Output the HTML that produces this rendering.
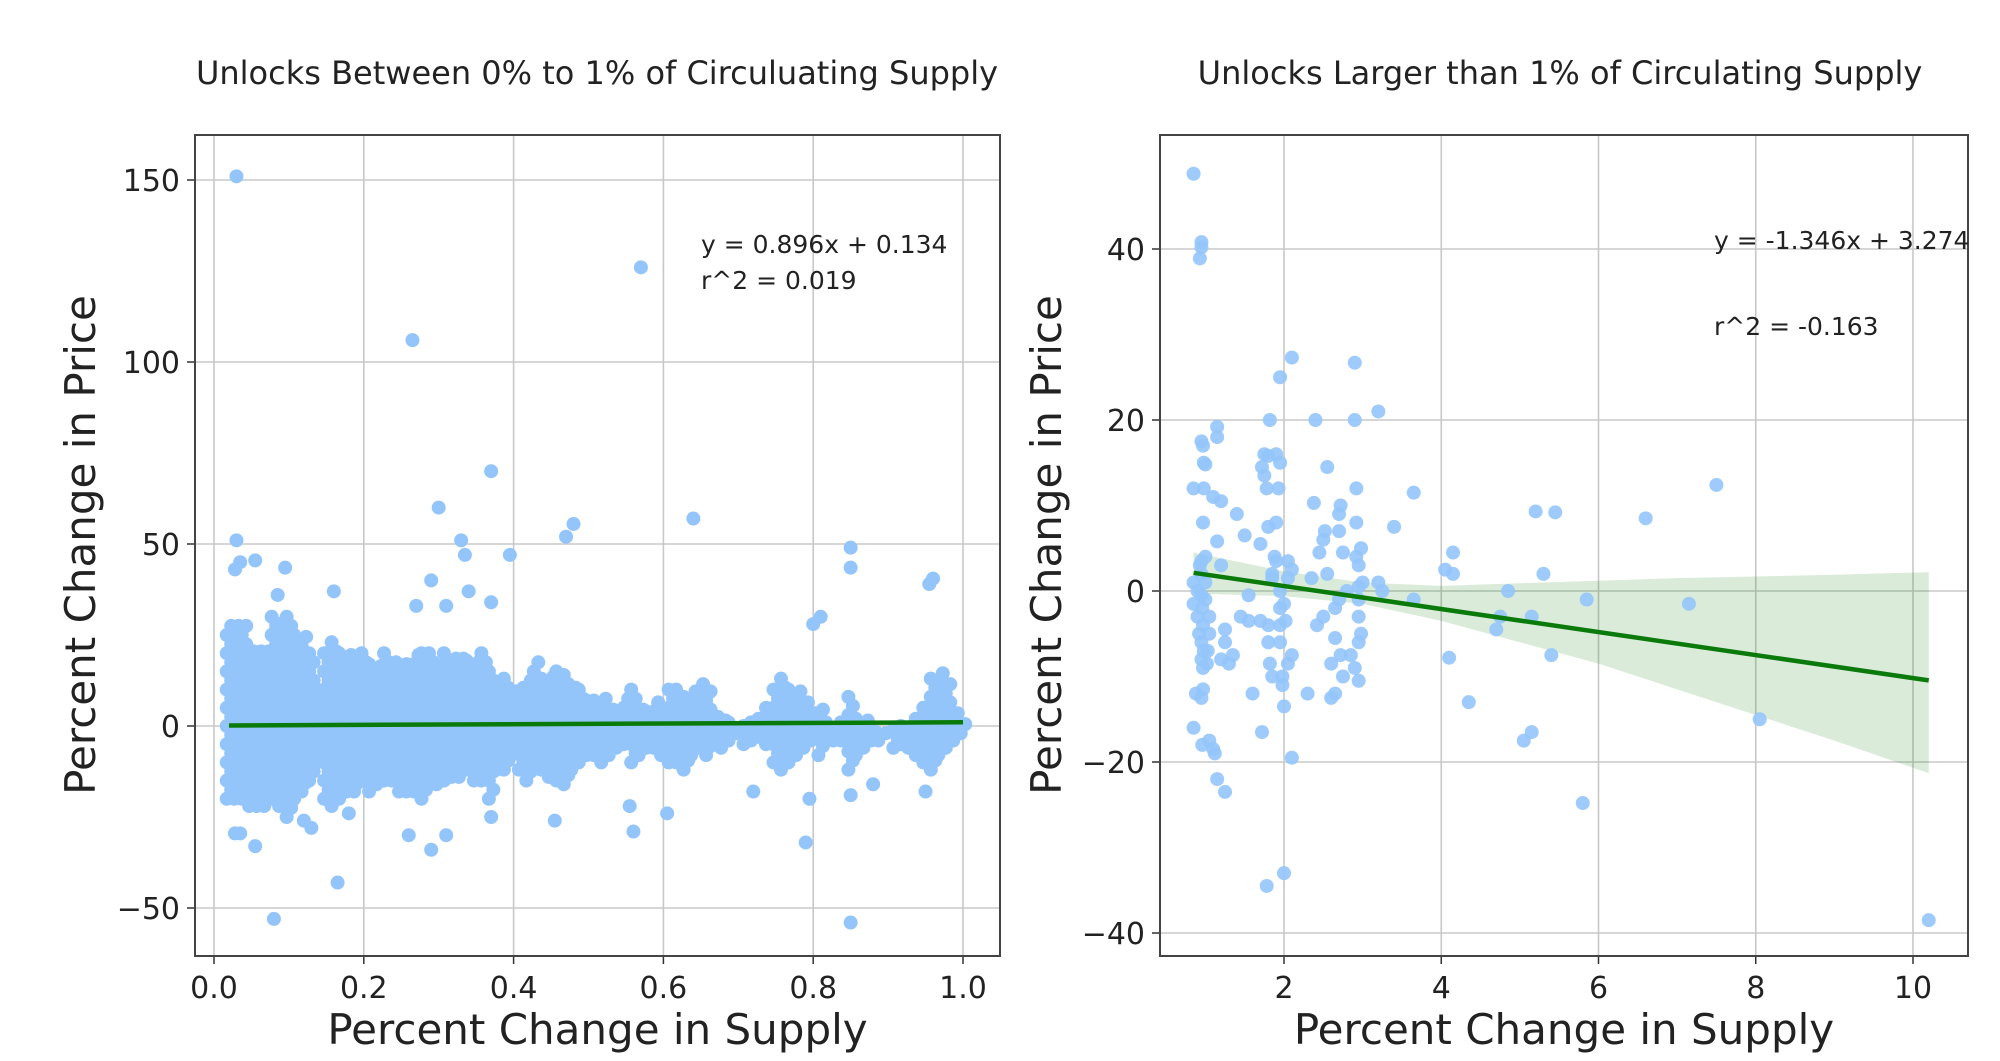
<!DOCTYPE html>
<html><head><meta charset="utf-8"><style>
html,body{margin:0;padding:0;background:#fff;}
svg{display:block;font-family:"DejaVu Sans","Liberation Sans",sans-serif;}
</style></head><body>
<svg id="chart" width="2000" height="1061" viewBox="0 0 2000 1061"></svg>
<script>
// ---------- LEFT PANEL DATA ----------
const leftXTicks = [0.0,0.2,0.4,0.6,0.8,1.0];
const leftXTickLabels = ["0.0","0.2","0.4","0.6","0.8","1.0"];
const leftYTicks = [-50,0,50,100,150];
const leftYTickLabels = ["\u221250","0","50","100","150"];
const leftBinStart = 0.02, leftBinStep = 0.01;
const leftCloudHi = [28,28,28,22,22,22,30,28,30,27,25,22,10,22,24,22,20,18,20,
 18,18,20,18,16, 18,20,20,22,18, 22,20,20,18,18, 20,15,12,15,10, 12,14,18,15,14,
 16,15,12,10,8, 8,8,6,6,8, 10,6,4,8,6, 12,10,8,10,12, 10,4,2,2,0, 2,3,4,6,10,
 15,12,10,8,5, 6,2,0,2,10, 4,2,0,-2,0, 0,0,0,2,5, 15,15,12,5,2];
const leftCloudLo = [-20,-20,-20,-22,-22,-22,-20,-22,-25,-20,-18,-15,-10,-20,-22,-20,-18,-18,-15,
 -18,-16,-15,-15,-18, -18,-18,-20,-15,-16, -15,-14,-14,-12,-15, -15,-20,-12,-12,-8, -12,-15,-10,-12,-14,
 -15,-16,-12,-10,-8, -8,-10,-8,-6,-5, -10,-8,-6,-6,-8, -10,-10,-12,-8,-6, -8,-5,-6,-4,-2, -5,-4,-3,-5,-10,
 -12,-10,-8,-6,-4, -8,-4,-4,-4,-12, -8,-6,-4,-4,-2, -6,-5,-6,-8,-10, -12,-8,-6,-4,-2];
const leftOutX = [0.03,0.57,0.265,0.37,0.3,0.03,0.035,0.028,0.055,0.095,0.33,0.335,0.395,0.47,0.48,0.64,0.85,0.85,0.955,0.96,0.16,0.085,0.29,0.34,0.37,0.31,0.27,0.8,0.81,0.165,0.08,0.85,0.79,0.055,0.028,0.035,0.29,0.31,0.26,0.56,0.605,0.555,0.455,0.37,0.72,0.795,0.95,0.85,0.88,0.13,0.12,0.18];
const leftOutY = [151,126,106,70,60,51,45,43,45.5,43.5,51,47,47,52,55.5,57,49,43.5,39,40.5,37,36,40,37,34,33,33,28,30,-43,-53,-54,-32,-33,-29.5,-29.5,-34,-30,-30,-29,-24,-22,-26,-25,-18,-20,-18,-19,-16,-28,-26,-24];
const leftSlope = 0.896, leftIntercept = 0.134, leftFitRange = [0.02,1.0];

// ---------- RIGHT PANEL DATA ----------
const rightXTicks = [2,4,6,8,10];
const rightXTickLabels = ["2","4","6","8","10"];
const rightYTicks = [-40,-20,0,20,40];
const rightYTickLabels = ["\u221240","\u221220","0","20","40"];
const rightX = [0.85,0.95,0.95,0.93,0.85,0.85,0.85,0.85,0.88,0.9,0.9,0.92,0.95,0.95,0.93,0.95,0.95,0.95,0.96,0.97,0.98,0.97,0.97,0.95,0.96,0.95,0.97,0.98,1.0,0.98,0.97,1.0,1.0,1.0,1.05,1.05,1.03,1.02,1.05,1.1,1.12,1.15,1.25,1.1,1.15,1.15,1.2,1.15,1.2,1.25,1.25,1.2,1.3,1.35,1.4,1.45,1.5,1.55,1.55,1.6,1.7,1.7,1.72,1.75,1.75,1.8,1.78,1.8,1.82,1.8,1.8,1.82,1.72,1.78,1.85,1.85,1.85,1.88,1.9,1.9,1.9,1.93,1.95,1.95,1.95,1.95,1.95,1.95,1.98,1.98,2.0,2.0,2.0,2.02,2.05,2.05,2.05,2.1,2.1,2.1,2.1,2.3,2.35,2.38,2.4,2.42,2.45,2.5,2.5,2.52,2.55,2.55,2.6,2.6,2.65,2.65,2.65,2.7,2.72,2.7,2.7,2.72,2.75,2.75,2.8,2.85,2.9,2.9,2.9,2.92,2.92,2.92,2.95,2.95,2.95,2.95,2.95,2.95,2.98,2.98,3.0,3.2,3.2,3.25,3.4,3.65,3.65,4.05,4.15,4.15,4.1,4.35,4.7,4.75,4.85,5.05,5.15,5.15,5.2,5.3,5.45,5.4,5.8,5.85,6.6,7.15,7.5,8.05,10.2];
const rightY = [48.8,40.8,40.2,38.9,12,1,-1.5,-16,-12,0,-3,-5,-6,-8,3,3.5,2,-0.5,-2,-4,-7,-9,-11.5,-12.5,-18,17.5,17,15,14.8,12,8,4,1,-1,-3,-5,-7,-8.5,-17.5,-18.5,-19,-22,-23.5,11,19.2,18,10.5,5.8,3,-4.5,-6,-8,-8.5,-7.5,9,-3,6.5,-0.5,-3.5,-12,5.5,-3.5,14.5,13.5,16,15.8,12,7.5,20,-4,-6,-8.5,-16.5,-34.5,-10,1.5,2,4,3.5,8,16,12,15,25,0,-2,-4,-6,-10,-11,-13.5,-33,-1.5,-3.5,-8.5,1.5,3.5,27.3,-19.5,-7.5,2.5,-12,1.5,10.3,20,-4,4.5,6,-3,7,14.5,2,-8.5,-12.5,-12,-5.5,-2,9,10,7,-1,-7.5,-10,4.5,0,-7.5,26.7,20,-9,12,8,4,3,0.5,-1,-3,-6,-10.5,5,-5,1,21,1,0,7.5,11.5,-1,2.5,4.5,2,-7.8,-13,-4.5,-3,0,-17.5,-16.5,-3,9.3,2,9.2,-7.5,-24.8,-1,8.5,-1.5,12.4,-15,-38.5];
const rightBandX = [0.85,2,3,4,5,6,7,8,9,10.2];
const rightBandHi = [4.5,2.3,1.0,0.6,0.9,1.2,1.5,1.7,1.9,2.2];
const rightBandLo = [-0.3,-0.6,-1.5,-3.5,-6,-8.5,-11.5,-14.5,-17.5,-21.3];
const rightSlope = -1.346, rightIntercept = 3.274, rightFitRange = [0.85,10.2];

// ---------- DRAWING ----------
const NS = "http://www.w3.org/2000/svg";
const svg = document.getElementById("chart");
function mk(tag, attrs, parent){
  const e = document.createElementNS(NS, tag);
  for (const k in attrs) e.setAttribute(k, attrs[k]);
  (parent||svg).appendChild(e);
  return e;
}
function lin(d0,d1,r0,r1){ return v => r0 + (v-d0)*(r1-r0)/(d1-d0); }
const DOT = "#93c5fb";

function panel(p){
  const g = mk("g", {});
  
  
  p.xTicks.forEach((t,i)=>{
    const l = mk("line",{x1:p.sx(t),x2:p.sx(t),y1:p.top,y2:p.bottom,stroke:"#c8c8c8","stroke-width":1.6},g);
    
    
    const tk = mk("line",{x1:p.sx(t),x2:p.sx(t),y1:p.bottom,y2:p.bottom+8,stroke:"#333","stroke-width":1.5},g);
    
    
    const tx = mk("text",{x:p.sx(t),y:p.bottom+42,"font-size":30,"text-anchor":"middle",fill:"#222"},g);
    tx.textContent = p.xLabels[i];
    
    
  });
  p.yTicks.forEach((t,i)=>{
    const l = mk("line",{x1:p.left,x2:p.right,y1:p.sy(t),y2:p.sy(t),stroke:"#c8c8c8","stroke-width":1.6},g);
    
    
    const tk = mk("line",{x1:p.left-8,x2:p.left,y1:p.sy(t),y2:p.sy(t),stroke:"#333","stroke-width":1.5},g);
    
    
    const tx = mk("text",{x:p.left-15,y:p.sy(t)+11,"font-size":30,"text-anchor":"end",fill:"#222"},g);
    tx.textContent = p.yLabels[i];
    
    
  });
  return g;
}

function frameAndLabels(p, g){
  const f = mk("rect",{x:p.left,y:p.top,width:p.right-p.left,height:p.bottom-p.top,fill:"none",stroke:"#444","stroke-width":2},g);
  
  
  const t = mk("text",{x:p.titleX,y:84,"font-size":32,"text-anchor":"middle",fill:"#222"},g);
  t.textContent = p.title;
  
  
  const xl = mk("text",{x:(p.left+p.right)/2,y:1044,"font-size":42,"text-anchor":"middle",fill:"#222"},g);
  xl.textContent = "Percent Change in Supply";
  
  
  const yl = mk("text",{x:0,y:0,"font-size":42,"text-anchor":"middle",fill:"#222",transform:`translate(${p.ylabX},${545}) rotate(-90)`},g);
  yl.textContent = "Percent Change in Price";
  
  
  p.ann.forEach((a,i)=>{
    const at = mk("text",{x:p.annX,y:a.y,"font-size":25,fill:"#222"},g);
    at.textContent = a.t;
    
    
  });
}

// Left
const L = {name:"left-panel",left:195,right:1000,top:135,bottom:956,
  sx:lin(0,1,214,963), sy:lin(0,150,726,180),
  xTicks:leftXTicks,xLabels:leftXTickLabels,yTicks:leftYTicks,yLabels:leftYTickLabels,
  title:"Unlocks Between 0% to 1% of Circuluating Supply",titleX:597,ylabX:95,
  annX:701, ann:[{t:"y = 0.896x + 0.134",y:253},{t:"r^2 = 0.019",y:289}]};
const gL = panel(L);
const lp = mk("g",{},gL);


leftCloudHi.forEach((hi,i)=>{
  const x = leftBinStart + i*leftBinStep;
  const lo = leftCloudLo[i];
  let k = 0;
  for (let y = lo; y <= hi; y += 2.5, k++){
    const c = mk("circle",{cx:L.sx(x + (k%2? 0.003:-0.003)),cy:L.sy(y),r:7,fill:DOT},lp);
    
    
  }
});
leftOutX.forEach((x,i)=>{
  const c = mk("circle",{cx:L.sx(x),cy:L.sy(leftOutY[i]),r:7,fill:DOT},lp);
  
  
});
const lf = mk("line",{x1:L.sx(leftFitRange[0]),y1:L.sy(leftSlope*leftFitRange[0]+leftIntercept),
  x2:L.sx(leftFitRange[1]),y2:L.sy(leftSlope*leftFitRange[1]+leftIntercept),stroke:"#0a7a0a","stroke-width":4.5},gL);


frameAndLabels(L,gL);

// Right
const R = {name:"right-panel",left:1160,right:1968,top:135,bottom:956,
  sx:lin(2,10,1284,1913), sy:lin(0,40,591,249),
  xTicks:rightXTicks,xLabels:rightXTickLabels,yTicks:rightYTicks,yLabels:rightYTickLabels,
  title:"Unlocks Larger than 1% of Circulating Supply",titleX:1560,ylabX:1061,
  annX:1714, ann:[{t:"y = -1.346x + 3.274",y:249},{t:"r^2 = -0.163",y:335}]};
const gR = panel(R);
let bandPts = rightBandX.map((x,i)=>R.sx(x)+","+R.sy(rightBandHi[i]));
bandPts = bandPts.concat(rightBandX.map((x,i)=>R.sx(x)+","+R.sy(rightBandLo[i])).reverse());
const band = mk("polygon",{points:bandPts.join(" "),fill:"#0a7a0a","fill-opacity":0.15},gR);


const rp = mk("g",{},gR);


rightX.forEach((x,i)=>{
  const c = mk("circle",{cx:R.sx(x),cy:R.sy(rightY[i]),r:7,fill:DOT,"fill-opacity":0.9},rp);
  
  
});
const rf = mk("line",{x1:R.sx(rightFitRange[0]),y1:R.sy(rightSlope*rightFitRange[0]+rightIntercept),
  x2:R.sx(rightFitRange[1]),y2:R.sy(rightSlope*rightFitRange[1]+rightIntercept),stroke:"#0a7a0a","stroke-width":4.5},gR);


frameAndLabels(R,gR);
</script>
</body></html>
